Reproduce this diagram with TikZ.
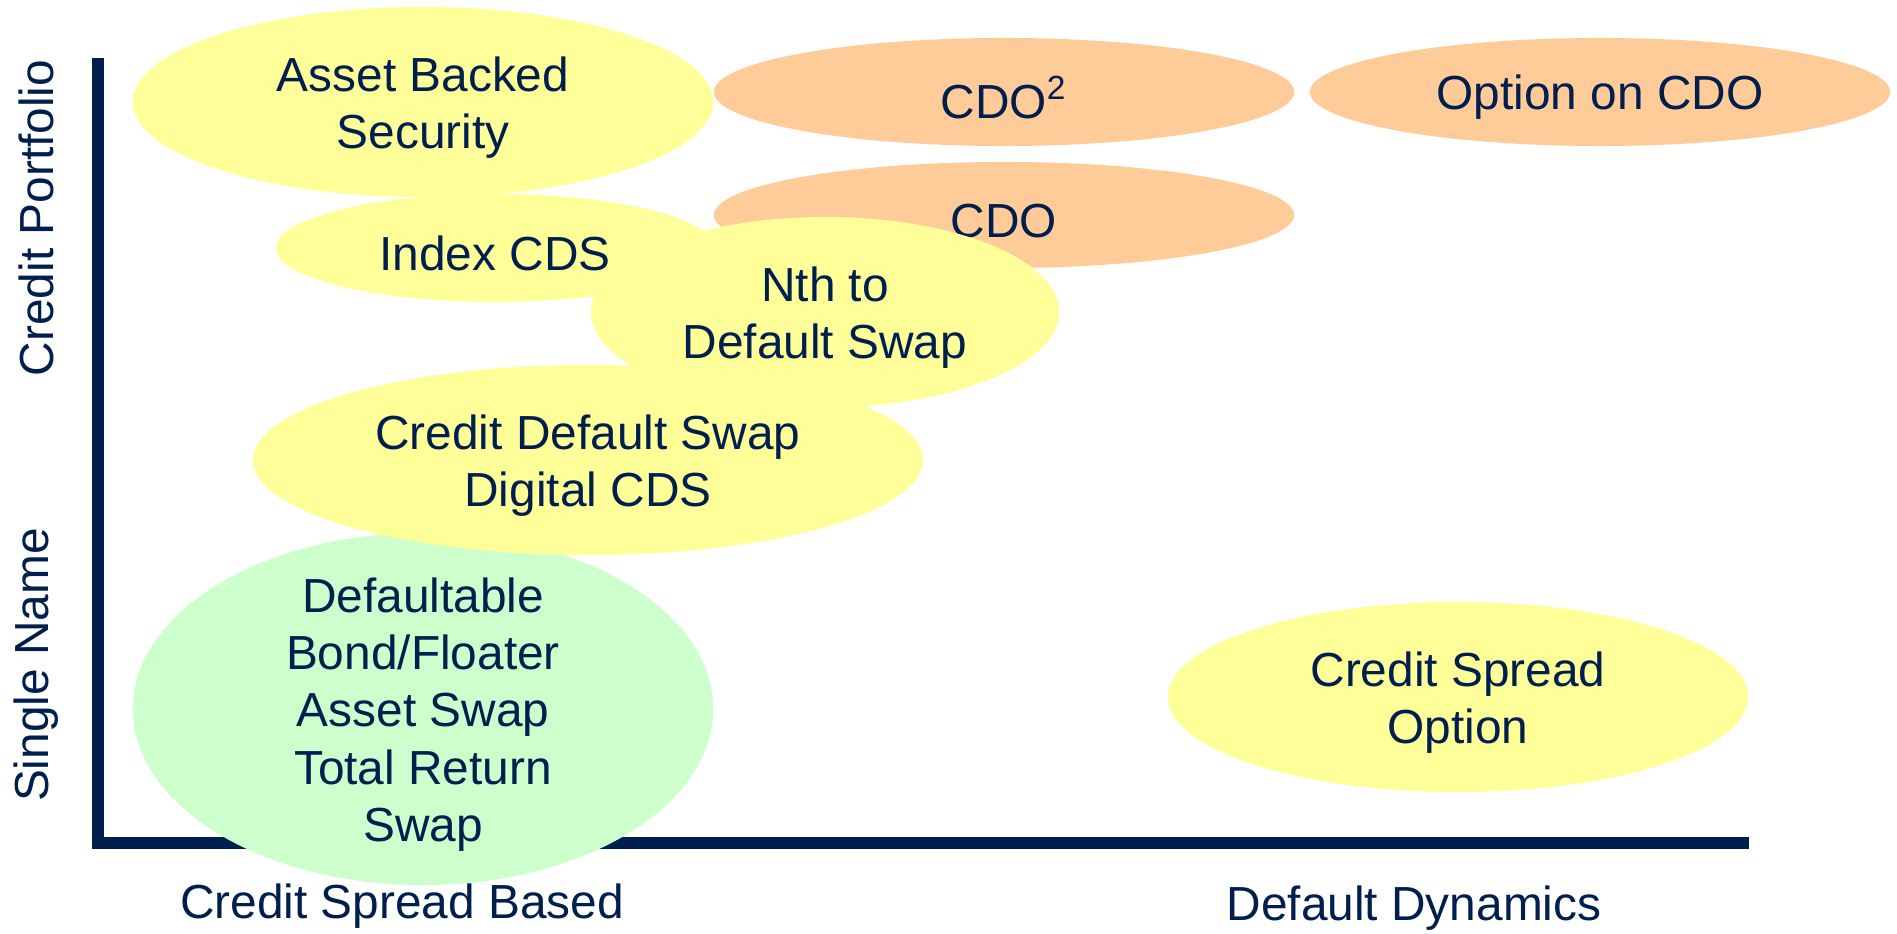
\documentclass[tikz,border=0pt]{standalone}
\usepackage{fontspec}
\setmainfont{Liberation Sans}
\usetikzlibrary{shapes.geometric}
\definecolor{navy}{RGB}{0,30,78}
\definecolor{yel}{RGB}{255,255,153}
\definecolor{org}{RGB}{255,204,153}
\definecolor{grn}{RGB}{204,255,204}
\begin{document}
\begin{tikzpicture}[x=0.01cm, y=-0.01cm,
  blob/.style = {ellipse, fill=#1, inner sep=0pt},
  lbl/.style = {text=navy, align=center, font=\fontsize{13.6pt}{16.3pt}\selectfont},
  inlbl/.style = {lbl, yshift=-1.6pt},
  axis/.style = {draw=navy, line width=0.12cm}]
\useasboundingbox (0,0) rectangle (1897,934);
% axes
\coordinate (top) at (98,58);
\coordinate (end) at (1749,843);
\draw[axis] (top) |- (end);
% products
\node[blob=yel, minimum width=5.8cm, minimum height=1.9cm, label={[inlbl]center:Asset Backed\\Security}] (abs) at (423,102) {};
\node[blob=org, minimum width=5.8cm, minimum height=1.08cm, label={[inlbl]center:CDO\textsuperscript{2}}] (cdosq) at (1004,92) {};
\node[blob=org, minimum width=5.8cm, minimum height=1.08cm, label={[inlbl]center:Option on CDO}] (optcdo) at (1600,92) {};
\node[blob=org, minimum width=5.8cm, minimum height=1.06cm, label={[inlbl]center:CDO}] (cdo) at (1004,215) {};
\node[blob=yel, minimum width=4.38cm, minimum height=1.08cm, label={[inlbl]center:Index CDS}] (idx) at (495,248) {};
\node[blob=yel, minimum width=4.68cm, minimum height=1.9cm, label={[inlbl]center:Nth to\\Default Swap}] (nth) at (825,312) {};
\node[blob=grn, minimum width=5.8cm, minimum height=3.52cm, label={[inlbl]center:Defaultable\\Bond/Floater\\Asset Swap\\Total Return\\Swap}] (bond) at (423,709) {};
\node[blob=yel, minimum width=6.7cm, minimum height=1.9cm, label={[inlbl]center:Credit Default Swap\\Digital CDS}] (cds) at (588,460) {};
\node[blob=yel, minimum width=5.8cm, minimum height=1.9cm, label={[inlbl]center:Credit Spread\\Option}] (cso) at (1458,697) {};
% axis labels
\node[lbl, rotate=90] (port) at (36,218) {Credit Portfolio};
\node[lbl, rotate=90] (single) at (36,665) {Single Name};
\node[inlbl] (spread) at (402,901) {Credit Spread Based};
\node[inlbl] (dyn) at (1414,903) {Default Dynamics};
\end{tikzpicture}
\end{document}
